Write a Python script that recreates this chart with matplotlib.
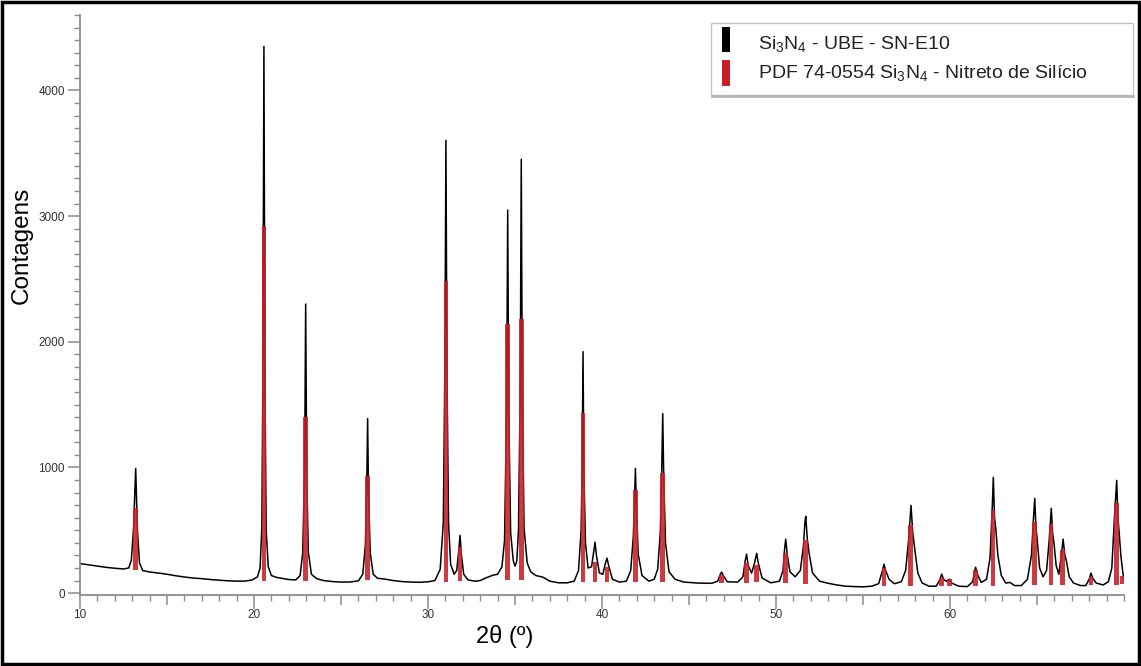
import numpy as np
import matplotlib
matplotlib.use('Agg')
import matplotlib.pyplot as plt
from matplotlib.patches import Rectangle
from matplotlib.lines import Line2D
from matplotlib.ticker import MultipleLocator

plt.rcParams['font.family'] = ['Liberation Sans', 'DejaVu Sans']
plt.rcParams['mathtext.fontset'] = 'custom'
plt.rcParams['mathtext.rm'] = 'Liberation Sans'

two_theta = [
    10.0, 10.5, 11.0, 11.5, 12.0, 12.5, 12.8, 12.95, 13.08, 13.2, 13.3, 13.42, 13.6, 14.0,
    14.5, 15.0, 15.5, 16.0, 16.5, 17.0, 17.5, 18.0, 18.5, 19.0, 19.5, 19.9, 20.2, 20.35,
    20.45, 20.51, 20.57, 20.63, 20.7, 20.82, 21.0, 21.3, 21.7, 22.0, 22.4, 22.65, 22.8,
    22.91, 22.97, 23.03, 23.12, 23.3, 23.6, 24.0, 24.5, 25.0, 25.5, 26.0, 26.25, 26.4,
    26.48, 26.53, 26.58, 26.68, 26.85, 27.1, 27.5, 28.0, 28.5, 29.0, 29.5, 30.0, 30.4,
    30.7, 30.88, 30.97, 31.03, 31.09, 31.18, 31.3, 31.5, 31.65, 31.77, 31.84, 31.91, 32.05,
    32.3, 32.7, 33.0, 33.4, 33.74, 34.0, 34.25, 34.4, 34.52, 34.58, 34.64, 34.75, 34.9,
    35.0, 35.1, 35.2, 35.3, 35.36, 35.42, 35.52, 35.7, 35.9, 36.2, 36.6, 37.0, 37.5, 38.0,
    38.4, 38.65, 38.8, 38.86, 38.91, 38.96, 39.05, 39.2, 39.4, 39.52, 39.6, 39.68, 39.85,
    40.05, 40.2, 40.29, 40.38, 40.6, 41.0, 41.4, 41.65, 41.8, 41.87, 41.92, 41.98, 42.08,
    42.3, 42.7, 43.0, 43.2, 43.35, 43.43, 43.49, 43.55, 43.65, 43.85, 44.2, 44.7, 45.5,
    46.3, 46.65, 46.8, 46.88, 46.97, 47.2, 47.8, 48.1, 48.22, 48.31, 48.4, 48.6, 48.75,
    48.89, 48.98, 49.2, 49.7, 50.2, 50.4, 50.5, 50.56, 50.65, 50.8, 51.1, 51.4, 51.58,
    51.66, 51.71, 51.8, 51.9, 52.1, 52.5, 53.0, 53.5, 54.0, 54.5, 55.0, 55.5, 55.9, 56.1,
    56.21, 56.3, 56.5, 56.8, 57.2, 57.45, 57.62, 57.76, 57.86, 57.95, 58.15, 58.4, 58.8,
    59.2, 59.4, 59.52, 59.65, 59.8, 59.96, 60.1, 60.5, 61.0, 61.3, 61.47, 61.6, 61.8, 62.1,
    62.3, 62.42, 62.49, 62.56, 62.63, 62.75, 62.95, 63.2, 63.45, 63.7, 64.1, 64.45, 64.68,
    64.8, 64.87, 64.94, 65.0, 65.15, 65.35, 65.55, 65.7, 65.82, 65.9, 65.97, 66.1, 66.25,
    66.4, 66.5, 66.6, 66.68, 66.85, 67.1, 67.5, 67.8, 68.0, 68.1, 68.2, 68.4, 68.8, 69.1,
    69.3, 69.45, 69.58, 69.65, 69.72, 69.82, 69.9, 69.97,
]
contagens = [
    235, 225, 215, 205, 198, 192, 200, 260, 520, 992, 500, 240, 180, 168,
    160, 150, 138, 128, 120, 115, 108, 103, 98, 95, 96, 105, 130, 200,
    520, 1700, 4350, 1650, 500, 210, 140, 125, 115, 108, 105, 140, 320,
    1000, 2300, 950, 330, 150, 115, 100, 92, 88, 88, 98, 150, 380,
    850, 1389, 800, 320, 150, 118, 112, 100, 92, 88, 86, 90, 100,
    190, 560, 1800, 3603, 1750, 560, 230, 150, 180, 340, 460, 320, 150,
    105, 95, 100, 125, 143, 150, 210, 420, 1500, 3048, 1450, 480, 260,
    215, 250, 500, 1600, 3452, 1550, 520, 240, 170, 140, 127, 95, 82, 82,
    95, 180, 500, 1000, 1921, 950, 400, 200, 210, 330, 405, 300, 160,
    150, 240, 278, 220, 110, 88, 95, 180, 450, 740, 992, 680, 310,
    140, 95, 110, 190, 480, 950, 1428, 900, 400, 170, 110, 88, 80,
    78, 95, 150, 167, 140, 90, 88, 130, 250, 310, 220, 160, 230,
    317, 240, 120, 82, 95, 180, 360, 429, 300, 170, 130, 180, 380,
    560, 611, 430, 320, 160, 95, 78, 65, 55, 52, 50, 55, 75, 170,
    230, 180, 110, 75, 90, 180, 420, 698, 476, 380, 160, 80, 55,
    55, 100, 151, 105, 95, 111, 80, 55, 52, 90, 206, 140, 85, 110,
    280, 650, 921, 600, 516, 300, 140, 80, 85, 60, 60, 110, 300,
    600, 754, 520, 444, 200, 130, 180, 420, 675, 470, 405, 220, 150,
    300, 429, 300, 262, 130, 80, 60, 60, 110, 159, 120, 80, 65, 90,
    200, 600, 897, 600, 484, 300, 200, 127,
]

# padrao de referencia PDF 74-0554 (posicao, topo)
pdf_pos = [13.2, 20.57, 22.97, 26.53, 31.03, 31.84, 34.58, 35.36, 38.91, 39.6, 40.29,
           41.92, 43.49, 46.88, 48.31, 48.89, 50.56, 51.71, 56.21, 57.74, 59.52, 59.96,
           61.47, 62.47, 64.85, 65.8, 66.48, 68.1, 69.56, 69.92]
pdf_topo = [675, 2920, 1400, 930, 2484, 365, 2143, 2183, 1437, 246, 206,
            817, 952, 143, 238, 222, 317, 420, 198, 540, 120, 110,
            183, 659, 563, 548, 341, 127, 714, 140]

# linha de base sob as barras vermelhas
base_x = [10, 13, 16, 19, 21, 23, 25, 27, 29, 31, 33, 35, 37, 39, 41, 43, 45, 47, 49,
          51, 53, 55, 57, 59, 61, 63, 65, 67, 69, 70]
base_y = [235, 190, 128, 95, 100, 100, 88, 105, 88, 92, 100, 105, 85, 85, 85, 90, 80,
          82, 85, 80, 70, 52, 60, 55, 52, 60, 65, 60, 65, 70]

W, H = 1141, 666
fig = plt.figure(figsize=(W / 100, H / 100), dpi=100)
ax = fig.add_axes([80 / W, 1 - 595 / H, 1044 / W, 580 / H])

ax.plot(two_theta, contagens, color='black', lw=1.1, zorder=2)

fundo = np.interp(pdf_pos, base_x, base_y)
ax.bar(pdf_pos, np.array(pdf_topo) - fundo, bottom=fundo, width=0.26,
       color='#c81e28', alpha=0.88, zorder=3, linewidth=0)

ax.set_xlim(10, 70)
ax.set_ylim(-15, 4600)

cinza = '#8c8c8c'
for lado in ['top', 'right']:
    ax.spines[lado].set_visible(False)
for lado in ['left', 'bottom']:
    ax.spines[lado].set_color(cinza)
    ax.spines[lado].set_linewidth(1.3)

ax.set_xticks(range(10, 70, 5))
ax.set_xticklabels([str(v) if v % 10 == 0 else '' for v in range(10, 70, 5)])
ax.xaxis.set_minor_locator(MultipleLocator(1))
ax.set_yticks(range(0, 5000, 1000))
ax.yaxis.set_minor_locator(MultipleLocator(100))
ax.tick_params(axis='both', which='major', direction='out', color=cinza, width=1.1,
               labelsize=8.5, labelcolor='#333333')
ax.tick_params(axis='both', which='minor', direction='out', color=cinza, width=1.0, length=4)
ax.tick_params(axis='x', which='major', length=7, pad=3)
ax.tick_params(axis='y', which='major', length=9, pad=2)
for t in ax.xaxis.get_major_ticks():
    if round(t.get_loc()) % 10 == 0:
        t.tick1line.set_markersize(10)

fig.text(505 / W, 1 - 637 / H, '2θ (º)', fontsize=17, ha='center', va='center')
fig.text(22 / W, 1 - 245 / H, 'Contagens', fontsize=17.5, rotation=90, ha='center', va='center')

# legenda desenhada a mao
def fc(x, y):
    return (x / W, 1 - y / H)

fig.add_artist(Rectangle(fc(711, 95), 422 / W, 72 / H, transform=fig.transFigure,
                         facecolor='white', edgecolor='#c4c4c4', lw=1.0))
fig.add_artist(Line2D([712 / W, 1133 / W], [1 - 96 / H, 1 - 96 / H], transform=fig.transFigure,
                      color='#b4b4b4', lw=2))
fig.add_artist(Rectangle(fc(722, 52), 8 / W, 25 / H, transform=fig.transFigure,
                         facecolor='black', edgecolor='none'))
fig.add_artist(Rectangle(fc(722, 86), 8 / W, 26 / H, transform=fig.transFigure,
                         facecolor='#c81e28', edgecolor='none'))
fig.text(758 / W, 1 - 44 / H, r'Si$\mathregular{_3}$N$\mathregular{_4}$ - UBE - SN-E10',
         fontsize=14, va='center', color='#222222')
fig.text(758 / W, 1 - 73 / H, r'PDF 74-0554 Si$\mathregular{_3}$N$\mathregular{_4}$ - Nitreto de Silício',
         fontsize=14, va='center', color='#222222')

fig.add_artist(Rectangle((2 / W, 2 / H), 1 - 4 / W, 1 - 4 / H, transform=fig.transFigure,
                         fill=False, edgecolor='black', lw=2.5))

fig.savefig('out.png', dpi=100)
